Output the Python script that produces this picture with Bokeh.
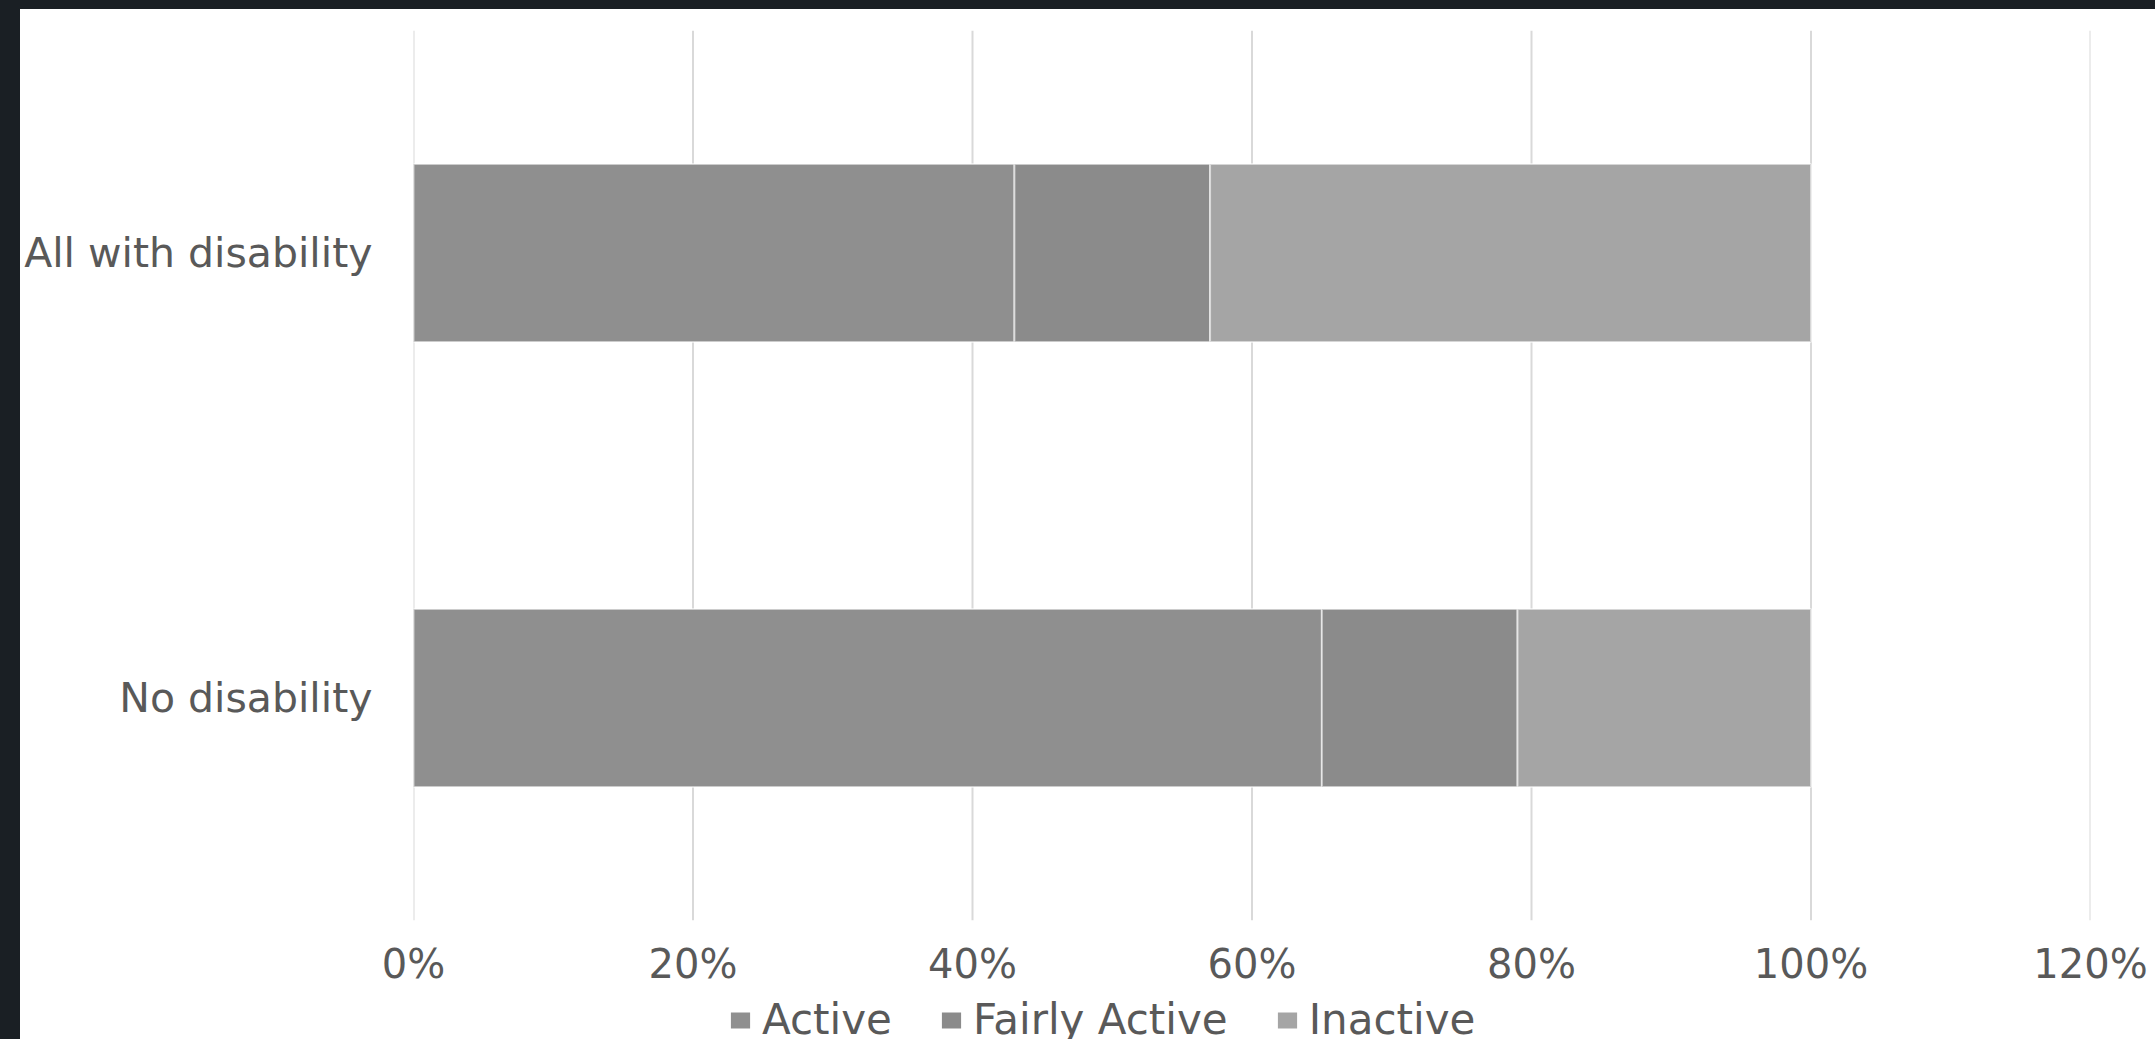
from bokeh.plotting import figure
from bokeh.models import (Range1d, FactorRange, Legend, LegendItem, Span,
                          NumeralTickFormatter, ColumnDataSource, FixedTicker)
from bokeh.layouts import column
from bokeh.embed import file_html
from bokeh.resources import INLINE

categories = ["No disability", "All with disability"]
series = ["Active", "Fairly Active", "Inactive"]
active = [0.65, 0.43]
fairly_active = [0.14, 0.14]
inactive = [0.21, 0.43]
x_ticks = [0, 0.2, 0.4, 0.6, 0.8, 1.0, 1.2]
colors = ["#8f8f8f", "#8b8b8b", "#a5a5a5"]

source = ColumnDataSource(dict(cat=categories, Active=active,
                               Fairly=fairly_active, Inactive=inactive))
stackers = ["Active", "Fairly", "Inactive"]

p = figure(y_range=FactorRange(*categories, range_padding=0),
           x_range=Range1d(0, 1.2),
           width=2135, height=980, output_backend="svg", toolbar_location=None,
           min_border_left=393, min_border_right=65, min_border_top=21,
           min_border_bottom=69)
p.margin = (9, 0, 0, 20)
p.styles = {"background-color": "white"}

p.outline_line_color = None
p.background_fill_color = "white"
p.border_fill_color = "white"
p.xgrid.grid_line_color = None
p.ygrid.grid_line_color = None

for t in x_ticks:
    p.add_layout(Span(location=t, dimension="height", line_color="#d9d9d9",
                      line_width=2, level="underlay"))

renderers = p.hbar_stack(stackers, y="cat", height=0.4,
                         fill_color=colors, line_color="white", line_alpha=0.55,
                         line_width=2, source=source)

p.xaxis.ticker = FixedTicker(ticks=x_ticks)
p.xaxis.formatter = NumeralTickFormatter(format="0%")
for ax in (p.xaxis[0], p.yaxis[0]):
    ax.axis_line_color = None
    ax.major_tick_line_color = None
    ax.minor_tick_line_color = None
    ax.major_tick_out = 0
    ax.major_tick_in = 0
    ax.major_label_text_color = "#595959"
    ax.major_label_text_font = "DejaVu Sans"
    ax.major_label_text_font_size = "40px"

p.yaxis.major_label_text_font_size = "41px"
p.xaxis.major_label_standoff = 20
p.yaxis.major_label_standoff = 41

# legend strip below the chart (its frame is aligned with the main frame)
p2 = figure(width=2135, height=50, output_backend="svg", toolbar_location=None,
            x_range=Range1d(0, 1.2), y_range=FactorRange(*categories),
            x_axis_location=None, y_axis_location=None,
            min_border_left=0, min_border_right=0, min_border_top=0, min_border_bottom=0)
p2.margin = (0, 0, 0, 20)
p2.styles = {"background-color": "white"}
p2.outline_line_color = None
p2.xgrid.grid_line_color = None
p2.ygrid.grid_line_color = None
p2.border_fill_color = "white"
p2.background_fill_color = "white"
leg_renderers = p2.hbar_stack(stackers, y="cat", height=0.4, fill_color=colors,
                              line_color=None, source=source, visible=False)

legend = Legend(items=[LegendItem(label=s, renderers=[r]) for s, r in zip(series, leg_renderers)],
                orientation="horizontal", location=(315, -5),
                label_text_font="DejaVu Sans", label_text_font_size="42px",
                label_text_color="#595959", glyph_width=24, glyph_height=20,
                label_standoff=10, spacing=47, padding=0, margin=0,
                border_line_color=None, background_fill_alpha=0)
p2.add_layout(legend, "center")

layout = column(p, p2, spacing=0, styles={"background-color": "#1a1f24"},
                width=2155, height=1039)

open("out.html", "w").write(file_html(layout, INLINE))
